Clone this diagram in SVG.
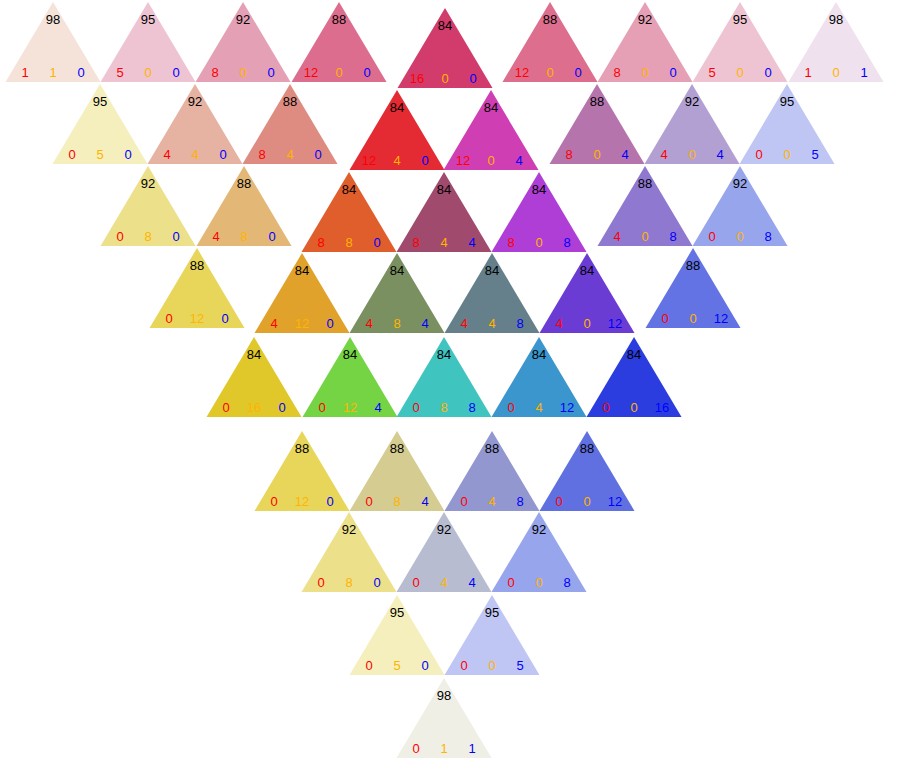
<svg xmlns="http://www.w3.org/2000/svg" width="915" height="760" viewBox="0 0 915 760">
<style>
text{font-family:"Liberation Sans",Arial,sans-serif;font-size:13px;text-anchor:middle}
.k{fill:#000}.r{fill:#ff0000}.y{fill:#ffb400}.b{fill:#0000ff}
</style>
<defs><polygon id="tri" points="0,0 47.5,80 -47.5,80"/></defs>
<rect width="915" height="760" fill="#fff"/>
<!-- row 1 -->
<g id="t1" transform="translate(53,2)"><use href="#tri" fill="#f5e3da"/><text class="k" y="22">98</text><text class="r" x="-28" y="74.5">1</text><text class="y" y="74.5">1</text><text class="b" x="28" y="74.5">0</text></g>
<g id="t2" transform="translate(148,2)"><use href="#tri" fill="#eec4d2"/><text class="k" y="22">95</text><text class="r" x="-28" y="74.5">5</text><text class="y" y="74.5">0</text><text class="b" x="28" y="74.5">0</text></g>
<g id="t3" transform="translate(243,2)"><use href="#tri" fill="#e4a0b5"/><text class="k" y="22">92</text><text class="r" x="-28" y="74.5">8</text><text class="y" y="74.5">0</text><text class="b" x="28" y="74.5">0</text></g>
<g id="t4" transform="translate(339,2)"><use href="#tri" fill="#dc6d8e"/><text class="k" y="22">88</text><text class="r" x="-28" y="74.5">12</text><text class="y" y="74.5">0</text><text class="b" x="28" y="74.5">0</text></g>
<g id="t5" transform="translate(445,8)"><use href="#tri" fill="#d13c6c"/><text class="k" y="22">84</text><text class="r" x="-28" y="74.5">16</text><text class="y" y="74.5">0</text><text class="b" x="28" y="74.5">0</text></g>
<g id="t6" transform="translate(550,2)"><use href="#tri" fill="#dd6e8e"/><text class="k" y="22">88</text><text class="r" x="-28" y="74.5">12</text><text class="y" y="74.5">0</text><text class="b" x="28" y="74.5">0</text></g>
<g id="t7" transform="translate(645,2)"><use href="#tri" fill="#e5a0b5"/><text class="k" y="22">92</text><text class="r" x="-28" y="74.5">8</text><text class="y" y="74.5">0</text><text class="b" x="28" y="74.5">0</text></g>
<g id="t8" transform="translate(740,2)"><use href="#tri" fill="#efc4d2"/><text class="k" y="22">95</text><text class="r" x="-28" y="74.5">5</text><text class="y" y="74.5">0</text><text class="b" x="28" y="74.5">0</text></g>
<g id="t9" transform="translate(836,2)"><use href="#tri" fill="#efe1ee"/><text class="k" y="22">98</text><text class="r" x="-28" y="74.5">1</text><text class="y" y="74.5">0</text><text class="b" x="28" y="74.5">1</text></g>
<!-- row 2 -->
<g id="t10" transform="translate(100,84)"><use href="#tri" fill="#f4efbc"/><text class="k" y="22">95</text><text class="r" x="-28" y="74.5">0</text><text class="y" y="74.5">5</text><text class="b" x="28" y="74.5">0</text></g>
<g id="t11" transform="translate(195,84)"><use href="#tri" fill="#e6b2a2"/><text class="k" y="22">92</text><text class="r" x="-28" y="74.5">4</text><text class="y" y="74.5">4</text><text class="b" x="28" y="74.5">0</text></g>
<g id="t12" transform="translate(290,84)"><use href="#tri" fill="#de8c82"/><text class="k" y="22">88</text><text class="r" x="-28" y="74.5">8</text><text class="y" y="74.5">4</text><text class="b" x="28" y="74.5">0</text></g>
<g id="t13" transform="translate(397,90)"><use href="#tri" fill="#e42a33"/><text class="k" y="22">84</text><text class="r" x="-28" y="74.5">12</text><text class="y" y="74.5">4</text><text class="b" x="28" y="74.5">0</text></g>
<g id="t14" transform="translate(491,90)"><use href="#tri" fill="#cf3eb2"/><text class="k" y="22">84</text><text class="r" x="-28" y="74.5">12</text><text class="y" y="74.5">0</text><text class="b" x="28" y="74.5">4</text></g>
<g id="t15" transform="translate(597,84)"><use href="#tri" fill="#b674ad"/><text class="k" y="22">88</text><text class="r" x="-28" y="74.5">8</text><text class="y" y="74.5">0</text><text class="b" x="28" y="74.5">4</text></g>
<g id="t16" transform="translate(692,84)"><use href="#tri" fill="#b3a0d3"/><text class="k" y="22">92</text><text class="r" x="-28" y="74.5">4</text><text class="y" y="74.5">0</text><text class="b" x="28" y="74.5">4</text></g>
<g id="t17" transform="translate(787,84)"><use href="#tri" fill="#c0c6f3"/><text class="k" y="22">95</text><text class="r" x="-28" y="74.5">0</text><text class="y" y="74.5">0</text><text class="b" x="28" y="74.5">5</text></g>
<!-- row 3 -->
<g id="t18" transform="translate(148,166)"><use href="#tri" fill="#ede08a"/><text class="k" y="22">92</text><text class="r" x="-28" y="74.5">0</text><text class="y" y="74.5">8</text><text class="b" x="28" y="74.5">0</text></g>
<g id="t19" transform="translate(244,166)"><use href="#tri" fill="#e3b877"/><text class="k" y="22">88</text><text class="r" x="-28" y="74.5">4</text><text class="y" y="74.5">8</text><text class="b" x="28" y="74.5">0</text></g>
<g id="t20" transform="translate(349,172)"><use href="#tri" fill="#e05d2c"/><text class="k" y="22">84</text><text class="r" x="-28" y="74.5">8</text><text class="y" y="74.5">8</text><text class="b" x="28" y="74.5">0</text></g>
<g id="t21" transform="translate(444,172)"><use href="#tri" fill="#a04a6e"/><text class="k" y="22">84</text><text class="r" x="-28" y="74.5">8</text><text class="y" y="74.5">4</text><text class="b" x="28" y="74.5">4</text></g>
<g id="t22" transform="translate(539,172)"><use href="#tri" fill="#ae3ed6"/><text class="k" y="22">84</text><text class="r" x="-28" y="74.5">8</text><text class="y" y="74.5">0</text><text class="b" x="28" y="74.5">8</text></g>
<g id="t23" transform="translate(645,166)"><use href="#tri" fill="#8e78d0"/><text class="k" y="22">88</text><text class="r" x="-28" y="74.5">4</text><text class="y" y="74.5">0</text><text class="b" x="28" y="74.5">8</text></g>
<g id="t24" transform="translate(740,166)"><use href="#tri" fill="#97a5ec"/><text class="k" y="22">92</text><text class="r" x="-28" y="74.5">0</text><text class="y" y="74.5">0</text><text class="b" x="28" y="74.5">8</text></g>
<!-- row 4 -->
<g id="t25" transform="translate(197,248)"><use href="#tri" fill="#e8d65a"/><text class="k" y="22">88</text><text class="r" x="-28" y="74.5">0</text><text class="y" y="74.5">12</text><text class="b" x="28" y="74.5">0</text></g>
<g id="t26" transform="translate(302,253)"><use href="#tri" fill="#e0a22a"/><text class="k" y="22">84</text><text class="r" x="-28" y="74.5">4</text><text class="y" y="74.5">12</text><text class="b" x="28" y="74.5">0</text></g>
<g id="t27" transform="translate(397,253)"><use href="#tri" fill="#7a9060"/><text class="k" y="22">84</text><text class="r" x="-28" y="74.5">4</text><text class="y" y="74.5">8</text><text class="b" x="28" y="74.5">4</text></g>
<g id="t28" transform="translate(492,253)"><use href="#tri" fill="#65808a"/><text class="k" y="22">84</text><text class="r" x="-28" y="74.5">4</text><text class="y" y="74.5">4</text><text class="b" x="28" y="74.5">8</text></g>
<g id="t29" transform="translate(587,253)"><use href="#tri" fill="#6a3cd4"/><text class="k" y="22">84</text><text class="r" x="-28" y="74.5">4</text><text class="y" y="74.5">0</text><text class="b" x="28" y="74.5">12</text></g>
<g id="t30" transform="translate(693,248)"><use href="#tri" fill="#6373e3"/><text class="k" y="22">88</text><text class="r" x="-28" y="74.5">0</text><text class="y" y="74.5">0</text><text class="b" x="28" y="74.5">12</text></g>
<!-- row 5 -->
<g id="t31" transform="translate(254,337)"><use href="#tri" fill="#e0c82a"/><text class="k" y="22">84</text><text class="r" x="-28" y="74.5">0</text><text class="y" y="74.5">16</text><text class="b" x="28" y="74.5">0</text></g>
<g id="t32" transform="translate(350,337)"><use href="#tri" fill="#74d444"/><text class="k" y="22">84</text><text class="r" x="-28" y="74.5">0</text><text class="y" y="74.5">12</text><text class="b" x="28" y="74.5">4</text></g>
<g id="t33" transform="translate(444,337)"><use href="#tri" fill="#40c4c0"/><text class="k" y="22">84</text><text class="r" x="-28" y="74.5">0</text><text class="y" y="74.5">8</text><text class="b" x="28" y="74.5">8</text></g>
<g id="t34" transform="translate(539,337)"><use href="#tri" fill="#3a96cc"/><text class="k" y="22">84</text><text class="r" x="-28" y="74.5">0</text><text class="y" y="74.5">4</text><text class="b" x="28" y="74.5">12</text></g>
<g id="t35" transform="translate(634,337)"><use href="#tri" fill="#2b3ddf"/><text class="k" y="22">84</text><text class="r" x="-28" y="74.5">0</text><text class="y" y="74.5">0</text><text class="b" x="28" y="74.5">16</text></g>
<!-- row 6 -->
<g id="t36" transform="translate(302,431)"><use href="#tri" fill="#e8d65a"/><text class="k" y="22">88</text><text class="r" x="-28" y="74.5">0</text><text class="y" y="74.5">12</text><text class="b" x="28" y="74.5">0</text></g>
<g id="t37" transform="translate(397,431)"><use href="#tri" fill="#d4cc90"/><text class="k" y="22">88</text><text class="r" x="-28" y="74.5">0</text><text class="y" y="74.5">8</text><text class="b" x="28" y="74.5">4</text></g>
<g id="t38" transform="translate(492,431)"><use href="#tri" fill="#9297d0"/><text class="k" y="22">88</text><text class="r" x="-28" y="74.5">0</text><text class="y" y="74.5">4</text><text class="b" x="28" y="74.5">8</text></g>
<g id="t39" transform="translate(587,431)"><use href="#tri" fill="#6070e0"/><text class="k" y="22">88</text><text class="r" x="-28" y="74.5">0</text><text class="y" y="74.5">0</text><text class="b" x="28" y="74.5">12</text></g>
<!-- row 7 -->
<g id="t40" transform="translate(349,512)"><use href="#tri" fill="#ede08a"/><text class="k" y="22">92</text><text class="r" x="-28" y="74.5">0</text><text class="y" y="74.5">8</text><text class="b" x="28" y="74.5">0</text></g>
<g id="t41" transform="translate(444,512)"><use href="#tri" fill="#b8bcd0"/><text class="k" y="22">92</text><text class="r" x="-28" y="74.5">0</text><text class="y" y="74.5">4</text><text class="b" x="28" y="74.5">4</text></g>
<g id="t42" transform="translate(539,512)"><use href="#tri" fill="#97a5ec"/><text class="k" y="22">92</text><text class="r" x="-28" y="74.5">0</text><text class="y" y="74.5">0</text><text class="b" x="28" y="74.5">8</text></g>
<!-- row 8 -->
<g id="t43" transform="translate(397,595)"><use href="#tri" fill="#f4efbc"/><text class="k" y="22">95</text><text class="r" x="-28" y="74.5">0</text><text class="y" y="74.5">5</text><text class="b" x="28" y="74.5">0</text></g>
<g id="t44" transform="translate(492,595)"><use href="#tri" fill="#c0c6f3"/><text class="k" y="22">95</text><text class="r" x="-28" y="74.5">0</text><text class="y" y="74.5">0</text><text class="b" x="28" y="74.5">5</text></g>
<!-- row 9 -->
<g id="t45" transform="translate(444,678)"><use href="#tri" fill="#efefe6"/><text class="k" y="22">98</text><text class="r" x="-28" y="74.5">0</text><text class="y" y="74.5">1</text><text class="b" x="28" y="74.5">1</text></g>
<g id="connectors"></g>
</svg>
